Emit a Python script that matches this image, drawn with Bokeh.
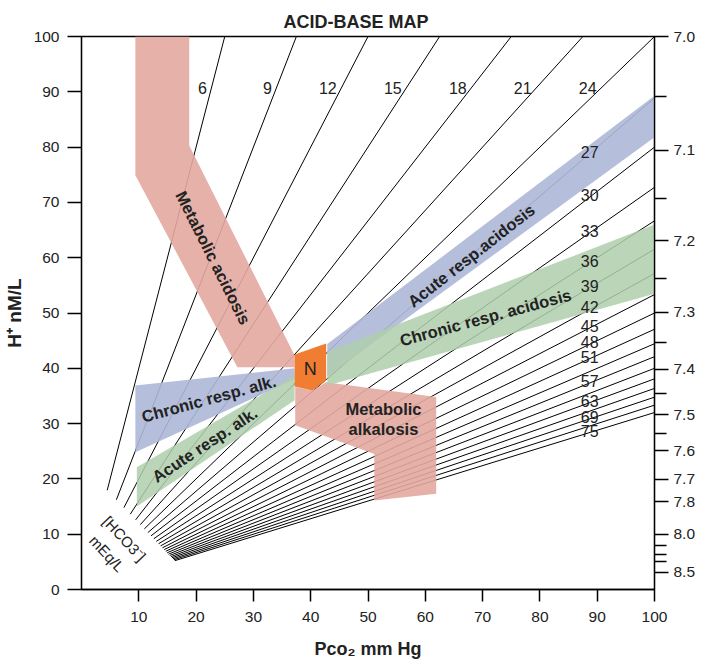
import math
from bokeh.plotting import figure
from bokeh.models import LinearAxis, FixedTicker, CustomJSTickFormatter, ColumnDataSource
from bokeh.core.properties import value
from bokeh.embed import file_html
from bokeh.resources import INLINE

# ---------------- data ----------------
hco3 = [6, 9, 12, 15, 18, 21, 24, 27, 30, 33, 36, 39, 42, 45, 48, 51, 54, 57,
        60, 63, 66, 69, 72, 75]
top_labels = [6, 9, 12, 15, 18, 21, 24]
right_labels = [27, 30, 33, 36, 39, 42, 45, 48, 51, 57, 63, 69, 75]

ph_major = [7.0, 7.1, 7.2, 7.3, 7.4, 7.5, 7.6, 7.7, 7.8, 8.0, 8.5]
ph_minor = [7.05, 7.15, 7.25, 7.35, 7.45, 7.55, 8.1, 8.2, 8.3]

x_ticks = [10, 20, 30, 40, 50, 60, 70, 80, 90, 100]
y_ticks = [0, 10, 20, 30, 40, 50, 60, 70, 80, 90, 100]

# region outlines (Pco2, H+)
met_acid_p = [9.4, 18.8, 18.8, 37.2, 37.2, 27.2, 9.4]
met_acid_h = [100, 100, 80.3, 42.3, 40.2, 40.2, 74.9]

met_alk_p = [37.3, 40.3, 42.7, 61.9, 61.9, 51.1, 51.1, 37.3]
met_alk_h = [36.6, 36.0, 37.5, 34.8, 17.3, 16.1, 24.5, 29.7]

ac_racid_p = [42.9, 100, 100, 42.9]
ac_racid_h = [44.4, 89.3, 81.8, 38.5]

ch_racid_p = [42.9, 100, 100, 42.9]
ch_racid_h = [43.0, 66.0, 53.5, 36.9]

ch_ralk_p = [9.4, 37.2, 37.2, 9.4]
ch_ralk_h = [36.9, 40.0, 38.0, 24.8]

ac_ralk_p = [9.65, 37.2, 37.2, 9.65]
ac_ralk_h = [22.1, 38.7, 34.2, 15.0]

normal_p = [37.2, 42.7, 42.7, 40.3, 37.2]
normal_h = [42.5, 44.5, 37.8, 36.0, 36.7]

region_text = ["Metabolic acidosis", "Acute resp.acidosis", "Chronic resp. acidosis",
               "Chronic resp. alk.", "Acute resp. alk.", "Metabolic", "alkalosis"]
region_text_p = [23.0, 68.0, 70.5, 22.2, 21.5, 52.7, 52.7]
region_text_h = [60.0, 60.4, 49.2, 34.5, 26.2, 32.7, 29.1]
region_text_deg = [-63.4, 38.0, 15.2, 15.2, 33.4, 0, 0]

# ---------------- styling ----------------
FONT = "Liberation Sans"
PINK = "#e2a9a0"
BLUE = "#adb8d7"
GREEN = "#afcead"
ORANGE = "#f07d32"
TXT = "#222222"

p = figure(x_range=(0, 100), y_range=(0, 100),
           frame_width=573, frame_height=553,
           min_border_left=74, min_border_right=36, min_border_top=36, min_border_bottom=66,
           output_backend="svg", toolbar_location=None, title="ACID-BASE MAP")
p.title.align = "left"
p.title.offset = 202
p.title.vertical_align = "top"
p.title.text_font = FONT
p.title.text_font_size = "18px"
p.title.text_font_style = "bold"
p.title.text_color = TXT
p.title.standoff = 6
p.xgrid.visible = False
p.ygrid.visible = False
p.outline_line_color = "black"
p.outline_line_width = 1.3
p.background_fill_color = "white"
p.border_fill_color = "white"

# isopleth lines H = 24 * Pco2 / HCO3
start_a, start_c = 1.08, 22.8
xs, ys = [], []
for h in hco3:
    k = 24.0 / h
    p0 = start_c / (k + start_a)
    p1 = min(100.0, 100.0 / k)
    xs.append([p0, p1])
    ys.append([k * p0, k * p1])
p.multi_line(xs, ys, line_color="black", line_width=1.0)

# regions
A = 0.9
p.patch(met_acid_p, met_acid_h, fill_color=PINK, fill_alpha=A, line_color=None)
p.patch(met_alk_p, met_alk_h, fill_color=PINK, fill_alpha=A, line_color=None)
p.patch(ac_racid_p, ac_racid_h, fill_color=BLUE, fill_alpha=A, line_color=None)
p.patch(ch_racid_p, ch_racid_h, fill_color=GREEN, fill_alpha=0.85, line_color=None)
p.patch(ch_ralk_p, ch_ralk_h, fill_color=BLUE, fill_alpha=A, line_color=None)
p.patch(ac_ralk_p, ac_ralk_h, fill_color=GREEN, fill_alpha=0.85, line_color=None)
p.patch(normal_p, normal_h, fill_color=ORANGE, fill_alpha=1.0, line_color=None)

# number labels (on top of bands)
tl_x = [h * 90.7 / 24 - 0.8 for h in top_labels]
tl_y = [90.7 for h in top_labels]
p.text(tl_x, tl_y, text=[str(h) for h in top_labels], text_align="right",
       text_baseline="middle", text_font=value(FONT), text_font_size="16px", text_color=TXT)
rl_x = [88.7 for h in right_labels]
rl_y = [24 * 88.7 / h + 0.35 for h in right_labels]
p.text(rl_x, rl_y, text=[str(h) for h in right_labels], text_align="center",
       text_baseline="middle", text_font=value(FONT), text_font_size="16px", text_color=TXT)

src = ColumnDataSource(dict(x=region_text_p, y=region_text_h, t=region_text,
                            a=[math.radians(d) for d in region_text_deg]))
p.text("x", "y", text="t", angle="a", source=src, text_align="center",
       text_baseline="middle", text_font=value(FONT), text_font_size="16.5px",
       text_font_style="bold", text_color=TXT)
p.text([39.9], [39.9], text=["N"], text_align="center", text_baseline="middle",
       text_font=value(FONT), text_font_size="18px", text_color=TXT)
p.text([7.5, 4.45], [9.2, 6.5], text=["[HCO3\u207b]", "mEq/L"], angle=[math.radians(-47)] * 2,
       text_align="center", text_baseline="middle", text_font=value(FONT),
       text_font_size="15px", text_color=TXT)

# axes
for ax in (p.xaxis[0], p.yaxis[0]):
    ax.major_tick_out = 14
    ax.major_tick_in = 0
    ax.minor_tick_out = 0
    ax.minor_tick_in = 0
    ax.axis_line_width = 1.3
    ax.major_tick_line_width = 1.5
    ax.major_label_text_font = FONT
    ax.major_label_text_font_size = "15.5px"
    ax.major_label_text_color = TXT
    ax.axis_label_text_font = FONT
    ax.axis_label_text_font_size = "18px"
    ax.axis_label_text_font_style = "bold"
    ax.axis_label_text_color = TXT

p.xaxis[0].ticker = FixedTicker(ticks=x_ticks)
p.xaxis[0].major_tick_out = 12
p.xaxis[0].major_label_standoff = 10
p.xaxis[0].axis_label = "Pco\u2082 mm Hg"
p.xaxis[0].axis_label_standoff = 14

p.yaxis[0].ticker = FixedTicker(ticks=y_ticks)
p.yaxis[0].major_label_standoff = 8
p.yaxis[0].axis_label = "H\u207a nM/L"
p.yaxis[0].axis_label_text_font_size = "19px"
p.yaxis[0].axis_label_standoff = 6

ry = LinearAxis(
    ticker=FixedTicker(ticks=[10 ** (9 - v) for v in ph_major],
                       minor_ticks=[10 ** (9 - v) for v in ph_minor]),
    formatter=CustomJSTickFormatter(code="return (9 - Math.log10(tick)).toFixed(1);"))
ry.major_tick_out = 14
ry.major_tick_in = 0
ry.minor_tick_out = 12
ry.minor_tick_in = 0
ry.axis_line_width = 1.3
ry.major_tick_line_width = 1.5
ry.minor_tick_line_width = 1.5
ry.major_label_standoff = 5
ry.major_label_text_font = FONT
ry.major_label_text_font_size = "15.5px"
ry.major_label_text_color = TXT
p.add_layout(ry, "right")

open("out.html", "w").write(file_html(p, INLINE))
